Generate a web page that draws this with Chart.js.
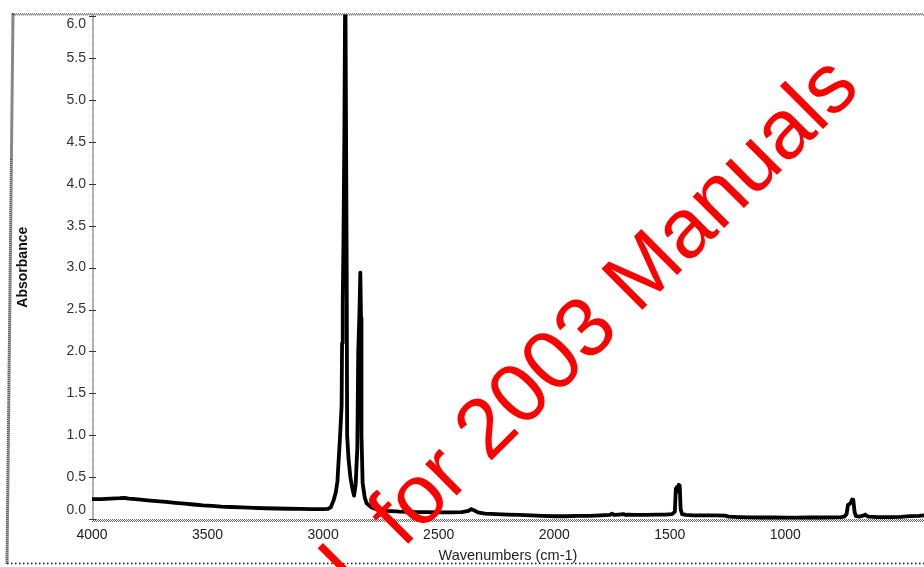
<!DOCTYPE html>
<html>
<head>
<meta charset="utf-8">
<script src="https://cdn.jsdelivr.net/npm/chart.js@4.4.1/dist/chart.umd.min.js"></script>
<style>
  html, body { margin: 0; padding: 0; background: #fff; overflow: hidden; }
  canvas { display: block; }
</style>
</head>
<body>
<canvas id="spectrum" width="924" height="567"></canvas>
<script>
// IR absorbance spectrum (wavenumber in cm-1, absorbance units)
const wavenumbers = [
  4000, 3960, 3920, 3880, 3860, 3840, 3800, 3760, 3720, 3680, 3640, 3600, 3560, 3520, 3480, 3440,
  3400, 3350, 3300, 3250, 3200, 3150, 3100, 3050, 3000, 2980, 2967, 2954, 2945, 2938, 2935, 2927,
  2920, 2918, 2915, 2912, 2908, 2904, 2901, 2898, 2896, 2890, 2882, 2873, 2866, 2859, 2852, 2848,
  2843, 2839, 2836, 2834, 2829, 2820, 2812, 2790, 2770, 2720, 2670, 2600, 2550, 2500, 2450, 2400,
  2370, 2360, 2350, 2330, 2300, 2250, 2200, 2150, 2100, 2050, 2000, 1950, 1900, 1850, 1800, 1760,
  1750, 1740, 1720, 1700, 1690, 1680, 1650, 1600, 1560, 1520, 1490, 1478, 1474, 1470, 1466, 1461,
  1457, 1453, 1447, 1430, 1400, 1350, 1300, 1260, 1246, 1200, 1150, 1100, 1050, 1000, 950, 900,
  850, 800, 760, 745, 735, 729, 722, 716, 711, 706, 700, 694, 680, 660, 654, 648,
  640, 600, 550, 500, 460, 420, 400
];
const absorbance = [
  0.24, 0.24, 0.245, 0.25, 0.255, 0.245, 0.235, 0.225, 0.215, 0.205, 0.195, 0.185, 0.175, 0.165, 0.158, 0.15,
  0.145, 0.14, 0.135, 0.13, 0.127, 0.124, 0.122, 0.12, 0.12, 0.122, 0.14, 0.23, 0.32, 0.45, 0.6, 0.97,
  1.35, 2.1, 2.6, 3.3, 4.6, 6.6, 6.6, 3.0, 1.0, 0.72, 0.5, 0.36, 0.28, 0.42, 0.85, 2.0,
  2.45, 2.94, 2.4, 1.0, 0.43, 0.26, 0.19, 0.14, 0.12, 0.1, 0.09, 0.085, 0.085, 0.08, 0.08, 0.085,
  0.1, 0.12, 0.11, 0.08, 0.065, 0.06, 0.055, 0.05, 0.045, 0.04, 0.035, 0.035, 0.038, 0.04, 0.045, 0.05,
  0.065, 0.05, 0.055, 0.06, 0.05, 0.055, 0.05, 0.05, 0.055, 0.055, 0.06, 0.09, 0.36, 0.38, 0.33, 0.41,
  0.40, 0.12, 0.06, 0.05, 0.045, 0.045, 0.045, 0.042, 0.03, 0.025, 0.022, 0.02, 0.02, 0.018, 0.018, 0.02,
  0.02, 0.022, 0.025, 0.03, 0.06, 0.17, 0.18, 0.2, 0.235, 0.23, 0.08, 0.035, 0.03, 0.045, 0.055, 0.04,
  0.03, 0.025, 0.025, 0.028, 0.035, 0.04, 0.045
];
const xTickValues = [4000, 3500, 3000, 2500, 2000, 1500, 1000];
const yTickStep = 0.5;
const xAxisTitle = 'Wavenumbers (cm-1)';
const yAxisTitle = 'Absorbance';
const watermarkText = 'Tutorial  for 2003 Manuals';

const FONT = "'Liberation Sans', Arial, sans-serif";

// small helpers for the checkered (halftone-looking) frame lines
function checkerH(ctx, x0, x1, y, rows, color) {
  ctx.save();
  ctx.strokeStyle = color;
  ctx.lineWidth = 1;
  ctx.setLineDash([1, 1]);
  for (let r = 0; r < rows; r++) {
    ctx.lineDashOffset = r % 2;
    ctx.beginPath();
    ctx.moveTo(x0, y + r + 0.5);
    ctx.lineTo(x1, y + r + 0.5);
    ctx.stroke();
  }
  ctx.restore();
}
function checkerV(ctx, x, y0, y1, cols, color) {
  ctx.save();
  ctx.strokeStyle = color;
  ctx.lineWidth = 1;
  ctx.setLineDash([1, 1]);
  for (let c = 0; c < cols; c++) {
    ctx.lineDashOffset = c % 2;
    ctx.beginPath();
    ctx.moveTo(x + c + 0.5, y0);
    ctx.lineTo(x + c + 0.5, y1);
    ctx.stroke();
  }
  ctx.restore();
}

// keeps the end tick labels of the y axis inside the plot height
const edgeLabels = {
  id: 'edgeLabels',
  beforeDraw(chart) {
    const y = chart.scales.y;
    const area = chart.chartArea;
    const items = y.getLabelItems(area);
    items.forEach(it => {
      const t = it.options.translation;
      t[1] = Math.min(Math.max(t[1], area.top + 10), area.bottom - 10);
    });
  }
};

// axis lines, tick crosses and the outer border
const frame = {
  id: 'frame',
  beforeDatasetsDraw(chart) {
    const ctx = chart.ctx;
    const a = chart.chartArea;
    const W = chart.width;
    // top border across the whole chart
    checkerH(ctx, 12, W, a.top - 1, 2, '#444');
    // left axis
    checkerV(ctx, a.left, a.top, a.bottom, 2, '#666');
    // bottom axis
    checkerH(ctx, a.left, W, a.bottom - 1, 3, '#666');
    // tick crosses on the y axis
    ctx.save();
    ctx.strokeStyle = '#333';
    ctx.lineWidth = 1;
    chart.scales.y.ticks.forEach(t => {
      const p = Math.round(chart.scales.y.getPixelForValue(t.value)) + 0.5;
      ctx.beginPath();
      ctx.moveTo(a.left - 3, p);
      ctx.lineTo(a.left + 4, p);
      ctx.stroke();
    });
    ctx.restore();
    // outer border: left edge and dotted bottom edge
    ctx.save();
    ctx.strokeStyle = '#111';
    ctx.lineWidth = 3;
    ctx.setLineDash([1, 1]);
    ctx.beginPath();
    ctx.moveTo(13, a.top - 1);
    ctx.lineTo(7, 564);
    ctx.stroke();
    ctx.lineWidth = 1.5;
    ctx.setLineDash([1.5, 2.5]);
    ctx.beginPath();
    ctx.moveTo(7, 563.5);
    ctx.lineTo(W, 563.5);
    ctx.stroke();
    ctx.restore();
  }
};

// red diagonal stamp over the plot
const stamp = {
  id: 'stamp',
  afterDraw(chart) {
    const ctx = chart.ctx;
    ctx.save();
    ctx.translate(862, 90);
    ctx.rotate(-45 * Math.PI / 180);
    ctx.font = '84px ' + FONT;
    ctx.fillStyle = '#ff0000';
    ctx.textAlign = 'right';
    ctx.textBaseline = 'alphabetic';
    ctx.fillText(watermarkText, 0, 0);
    ctx.restore();
  }
};

const points = wavenumbers.map((w, i) => ({ x: w, y: absorbance[i] }));

new Chart(document.getElementById('spectrum'), {
  type: 'line',
  data: {
    datasets: [{
      data: points,
      borderColor: '#000',
      borderWidth: 3.8,
      borderJoinStyle: 'round',
      borderCapStyle: 'round',
      pointRadius: 0,
      tension: 0,
      fill: false,
      clip: { left: 0, top: 0, right: 0, bottom: 4 }
    }]
  },
  options: {
    responsive: false,
    animation: false,
    events: [],
    layout: { padding: { top: 12, right: 0, bottom: 0, left: 0 } },
    plugins: { legend: { display: false }, tooltip: { enabled: false } },
    scales: {
      x: {
        type: 'linear',
        reverse: true,
        min: 400,
        max: 4000,
        grid: { display: false, drawTicks: false },
        border: { display: false },
        afterBuildTicks: s => { s.ticks = xTickValues.map(v => ({ value: v })); },
        afterFit: s => { s.height = 47; },
        ticks: {
          padding: 7,
          maxRotation: 0,
          autoSkip: false,
          color: '#222',
          font: { family: FONT, size: 14 },
          callback: v => String(v)
        },
        title: {
          display: true,
          text: xAxisTitle,
          color: '#222',
          font: { family: FONT, size: 14.5 },
          padding: { top: 0, bottom: 2 }
        }
      },
      y: {
        min: -0.01,
        max: 6.02,
        grid: { display: false, drawTicks: false },
        border: { display: false },
        afterFit: s => { s.width = 92; },
        ticks: {
          stepSize: yTickStep,
          includeBounds: false,
          padding: 6,
          color: '#333',
          font: { family: FONT, size: 14 },
          callback: v => Number(v).toFixed(1)
        },
        title: {
          display: true,
          text: yAxisTitle,
          color: '#111',
          font: { family: FONT, size: 14, weight: 'bold' },
          padding: { top: 15, bottom: 0 }
        }
      }
    }
  },
  plugins: [edgeLabels, frame, stamp]
});
</script>
</body>
</html>
